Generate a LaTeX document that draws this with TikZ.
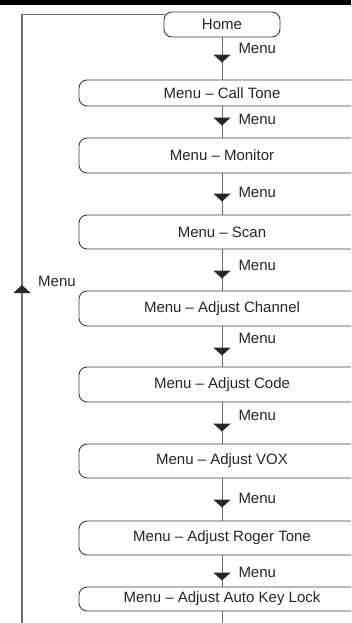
\documentclass[tikz,border=0pt]{standalone}
\usepackage{fontspec}
\setmainfont{Liberation Sans}
\usetikzlibrary{arrows.meta, decorations.markings, positioning}
\definecolor{boxline}{HTML}{3A3A3A}
\definecolor{flowline}{HTML}{6E6E6E}
\definecolor{menutext}{HTML}{262626}

\tikzset{
  menubox/.style={draw=boxline, line width=0.9pt, rounded corners=8pt,
    minimum width=286pt, minimum height=34pt, inner sep=0pt,
    font=\fontsize{15}{18}\selectfont, text=menutext},
  flow/.style={draw=flowline, line width=1pt, postaction={decorate},
    decoration={markings, mark=at position -#1 with
      {\arrow{Triangle[width=17pt, length=8pt, color=menutext]}}}},
  flow/.default=12pt,
  menulbl/.style={anchor=west, inner sep=0pt, xshift=16pt,
    font=\fontsize{15}{18}\selectfont, text=menutext},
}

\begin{document}
\begin{tikzpicture}[x=1pt, y=-1pt]
  \useasboundingbox (0,0) rectangle (351,623);
  \clip (0,0) rectangle (351,623);
  \fill[black] (0,0) rectangle (351,5);

  % Menu states
  \node[menubox, minimum width=116pt, minimum height=25pt] (home) at (222,24.5) {Home};
  \node[menubox, minimum height=26pt] (calltone) at (222,93) {Menu -- Call Tone};
  \node[menubox, minimum height=35pt] (monitor) at (222,155.5) {Menu -- Monitor};
  \node[menubox] (scan) at (222,232) {Menu -- Scan};
  \node[menubox, minimum height=35pt] (channel) at (222,308.5) {Menu -- Adjust Channel};
  \node[menubox, minimum height=35pt] (code) at (222,384.5) {Menu -- Adjust Code};
  \node[menubox] (vox) at (222,461) {Menu -- Adjust VOX};
  \node[menubox] (roger) at (222,538) {Menu -- Adjust Roger Tone};
  \node[menubox, minimum height=24pt] (autolock) at (222,599) {Menu -- Adjust Auto Key Lock};

  % Menu key steps
  \draw[flow=17pt] (home) -- node[menulbl, pos=0.26] {Menu} (calltone);
  \draw[flow] (calltone) -- node[menulbl, pos=0.41] {Menu} (monitor);
  \draw[flow=13pt] (monitor) -- node[menulbl, pos=0.45] {Menu} (scan);
  \draw[flow] (scan) -- node[menulbl, pos=0.38] {Menu} (channel);
  \draw[flow=11pt] (channel) -- node[menulbl, pos=0.29] {Menu} (code);
  \draw[flow] (code) -- node[menulbl, pos=0.31] {Menu} (vox);
  \draw[flow=13pt] (vox) -- node[menulbl, pos=0.47] {Menu} (roger);
  \draw[flow=6pt] (roger) -- node[menulbl, pos=0.53] {Menu} (autolock);

  % Tail and return loop
  \coordinate (tail) at (222,623);
  \draw[draw=flowline, line width=1pt] (autolock) -- (tail);

  \coordinate (loopfoot) at (22,623);
  \draw[draw=flowline, line width=1.3pt, postaction={decorate},
    decoration={markings, mark=at position 338pt with
      {\arrow{Triangle[width=17pt, length=8pt, color=menutext]}}}]
    (loopfoot) |- ([xshift=1.5pt, yshift=-3pt]home.north west);
  \node[menulbl] (looplbl) at (22,281) {Menu};
\end{tikzpicture}
\end{document}
